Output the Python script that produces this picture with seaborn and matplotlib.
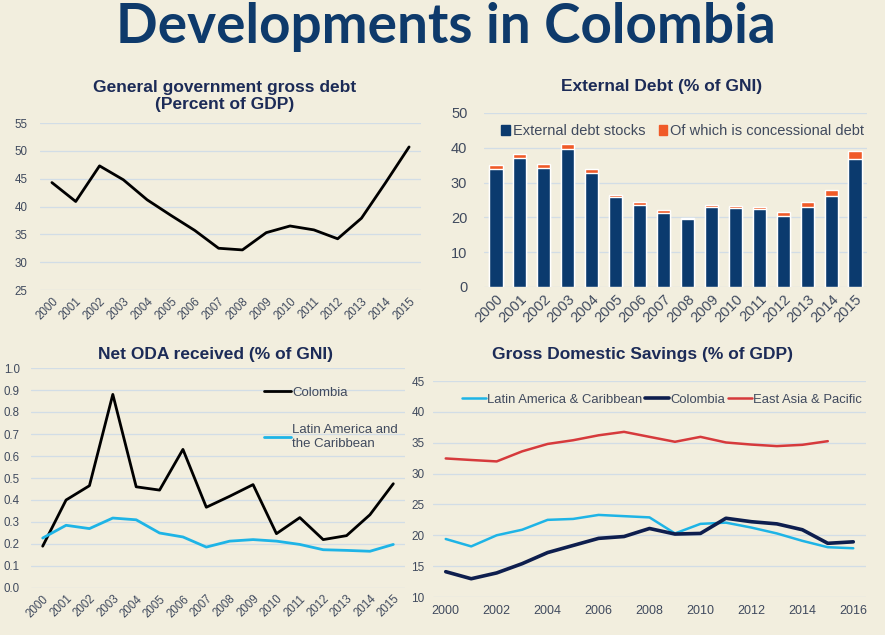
import matplotlib
matplotlib.use("Agg")
import matplotlib.pyplot as plt
from matplotlib.patches import Patch
from matplotlib.lines import Line2D
import seaborn as sns
import pandas as pd

# ---- data ----
years = list(range(2000, 2016))
gov_debt = [44.3, 40.9, 47.3, 44.8, 41.2, 38.4, 35.7, 32.5, 32.2, 35.3,
            36.5, 35.8, 34.2, 37.9, 44.2, 50.7]

ext_debt_stocks = [33.9, 37.2, 34.1, 39.6, 32.9, 25.8, 23.7, 21.4, 19.5, 23.1,
                   22.8, 22.5, 20.4, 23.1, 26.2, 36.7]
concessional = [1.2, 1.1, 1.2, 1.4, 1.0, 0.7, 0.7, 0.6, 0.4, 0.6,
                0.5, 0.6, 1.2, 1.4, 1.6, 2.3]

oda_colombia = [0.19, 0.40, 0.465, 0.88, 0.46, 0.445, 0.63, 0.367, 0.417, 0.47,
                0.247, 0.32, 0.22, 0.238, 0.333, 0.474]
oda_lac = [0.227, 0.285, 0.27, 0.318, 0.31, 0.25, 0.232, 0.186, 0.213, 0.22,
           0.213, 0.198, 0.174, 0.171, 0.167, 0.198]

sav_years = list(range(2000, 2017))
sav_lac = [19.4, 18.2, 20.0, 20.9, 22.5, 22.65, 23.3, 23.1, 22.9, 20.3,
           21.85, 22.05, 21.25, 20.3, 19.1, 18.07, 17.9]
sav_colombia = [14.1, 12.96, 13.9, 15.4, 17.2, 18.35, 19.5, 19.8, 21.1, 20.2,
                20.3, 22.76, 22.2, 21.85, 20.9, 18.7, 18.94]
sav_eap = [32.45, 32.2, 31.97, 33.6, 34.8, 35.4, 36.2, 36.76, 35.95, 35.15,
           35.95, 35.04, 34.7, 34.45, 34.66, 35.25]

# ---- style ----
BG = "#F2EEDE"
NAVY_TITLE = "#1C2B57"
TICK = "#404A5E"
GRID = "#D2DDE6"
BAR_NAVY = "#0B3A6E"
BAR_ORANGE = "#F05A28"
LIGHT_BLUE = "#1EB4E6"
RED = "#D63A3C"
DARK_NAVY = "#0E1E4E"

sns.set_theme(style="white")
plt.rcParams["font.family"] = ["Liberation Sans", "DejaVu Sans"]

fig = plt.figure(figsize=(8.85, 6.35), dpi=100, facecolor=BG)

def place(l, r, top, bottom):
    W, H = 885.0, 635.0
    return [l / W, 1 - bottom / H, (r - l) / W, (bottom - top) / H]

def style_axes(ax, ysize, yticks):
    ax.set_facecolor(BG)
    for s in ax.spines.values():
        s.set_visible(False)
    ax.set_yticks(yticks)
    ax.yaxis.grid(True, color=GRID, linewidth=0.9)
    ax.set_axisbelow(True)
    ax.tick_params(axis="both", length=0, colors=TICK, labelsize=ysize)
    ax.set_xlabel("")
    ax.set_ylabel("")

title_kw = dict(fontsize=12.5, fontweight="bold", color=NAVY_TITLE)

# ---- panel 1: general government gross debt ----
ax1 = fig.add_axes(place(40, 421, 123, 290))
df1 = pd.DataFrame({"year": years, "debt": gov_debt})
sns.lineplot(data=df1, x="year", y="debt", ax=ax1, color="black", linewidth=2.0)
ax1.set_xlim(1999.5, 2015.5)
ax1.set_ylim(25, 55)
style_axes(ax1, 8.3, range(25, 56, 5))
ax1.set_xticks(years)
ax1.set_xticklabels([str(y) for y in years], rotation=45, ha="right",
                    rotation_mode="anchor", fontsize=8.3)
ax1.tick_params(axis="x", pad=4)
ax1.tick_params(axis="y", pad=9)
fig.text(225 / 885, 1 - 96 / 635, "General government gross debt\n(Percent of GDP)",
         ha="center", va="center", linespacing=1.12, **title_kw)

# ---- panel 2: external debt ----
ax2 = fig.add_axes(place(484, 867, 113, 287))
df2 = pd.DataFrame({"year": [str(y) for y in years],
                    "stocks": ext_debt_stocks,
                    "total": [a + b for a, b in zip(ext_debt_stocks, concessional)]})
sns.barplot(data=df2, x="year", y="total", ax=ax2, color=BAR_ORANGE,
            width=0.55, saturation=1)
sns.barplot(data=df2, x="year", y="stocks", ax=ax2, color=BAR_NAVY,
            width=0.55, saturation=1)
ax2.set_xlim(-0.5, 15.5)
ax2.set_ylim(0, 50)
style_axes(ax2, 10.5, range(0, 51, 10))
ax2.set_xticks(range(len(years)))
ax2.set_xticklabels([str(y) for y in years], rotation=45, ha="right",
                    rotation_mode="anchor", fontsize=10.5)
ax2.tick_params(axis="y", pad=12)
ax2.legend(handles=[Patch(color=BAR_NAVY, label="External debt stocks"),
                    Patch(color=BAR_ORANGE, label="Of which is concessional debt")],
           loc="upper left", bbox_to_anchor=(0.03, 0.97), ncol=2, frameon=False,
           fontsize=10.5, handlelength=0.6, handleheight=0.6, handletextpad=0.2,
           columnspacing=0.9, labelcolor=TICK, borderaxespad=0)
fig.text(662 / 885, 1 - 86 / 635, "External Debt (% of GNI)", ha="center",
         va="center", **title_kw)

# ---- panel 3: net ODA received ----
ax3 = fig.add_axes(place(31, 405, 368, 588))
df3 = pd.DataFrame({"year": years * 2,
                    "oda": oda_colombia + oda_lac,
                    "region": ["Colombia"] * len(years) +
                              ["Latin America and\nthe Caribbean"] * len(years)})
sns.lineplot(data=df3, x="year", y="oda", hue="region", ax=ax3,
             palette=["black", LIGHT_BLUE], linewidth=2.0, legend=False)
ax3.set_xlim(1999.5, 2015.5)
ax3.set_ylim(0, 1.0)
style_axes(ax3, 8.3, [i / 10 for i in range(11)])
ax3.set_yticklabels([f"{i / 10:.1f}" for i in range(11)])
ax3.set_xticks(years)
ax3.set_xticklabels([str(y) for y in years], rotation=45, ha="right",
                    rotation_mode="anchor", fontsize=8.3)
ax3.tick_params(axis="y", pad=8)
ax3.legend(handles=[Line2D([], [], color="black", lw=2, label="Colombia"),
                    Line2D([], [], color=LIGHT_BLUE, lw=2,
                           label="Latin America and\nthe Caribbean")],
           loc="upper left", bbox_to_anchor=(0.61, 0.94), frameon=False,
           fontsize=9.5, handlelength=2.0, handletextpad=0.1, labelspacing=1.9,
           labelcolor=TICK, borderaxespad=0)
fig.text(215 / 885, 1 - 355 / 635, "Net ODA received (% of GNI)", ha="center",
         va="center", **title_kw)

# ---- panel 4: gross domestic savings ----
ax4 = fig.add_axes(place(433, 866, 381, 597))
df4 = pd.DataFrame({"year": sav_years * 2 + sav_years[:len(sav_eap)],
                    "savings": sav_lac + sav_colombia + sav_eap,
                    "region": ["Latin America & Caribbean"] * len(sav_years) +
                              ["Colombia"] * len(sav_years) +
                              ["East Asia & Pacific"] * len(sav_eap)})
sns.lineplot(data=df4, x="year", y="savings", hue="region", size="region",
             sizes={"Latin America & Caribbean": 1.8, "Colombia": 2.6,
                    "East Asia & Pacific": 1.8},
             palette={"Latin America & Caribbean": LIGHT_BLUE,
                      "Colombia": DARK_NAVY, "East Asia & Pacific": RED},
             ax=ax4, legend=False)
ax4.set_xlim(1999.5, 2016.5)
ax4.set_ylim(10, 45)
style_axes(ax4, 8.5, range(10, 46, 5))
ax4.set_xticks(range(2000, 2017, 2))
ax4.tick_params(axis="x", labelsize=9, pad=6)
ax4.tick_params(axis="y", pad=6)
ax4.legend(handles=[Line2D([], [], color=LIGHT_BLUE, lw=1.8, label="Latin America & Caribbean"),
                    Line2D([], [], color=DARK_NAVY, lw=2.6, label="Colombia"),
                    Line2D([], [], color=RED, lw=1.8, label="East Asia & Pacific")],
           loc="upper left", bbox_to_anchor=(0.055, 0.965), ncol=3, frameon=False,
           fontsize=9.4, handlelength=1.8, handletextpad=0.1, columnspacing=0.25,
           labelcolor=TICK, borderaxespad=0)
fig.text(643 / 885, 1 - 355 / 635, "Gross Domestic Savings (% of GDP)", ha="center",
         va="center", **title_kw)

# ---- headline ----
fig.text(446 / 885, 1 - 27 / 635, "Developments in Colombia", ha="center",
         va="center", fontsize=39.5, fontweight="bold", color="#0E3A6B",
         family=["Lato", "DejaVu Sans"])

fig.savefig("out.png", dpi=100, facecolor=BG)
